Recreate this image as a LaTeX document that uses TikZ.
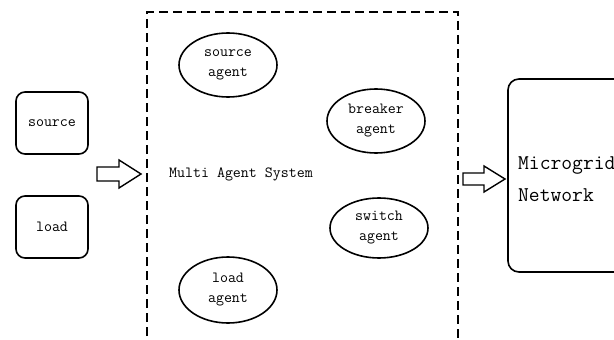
\documentclass[tikz,border=0pt]{standalone}
\usetikzlibrary{shapes.geometric}
\begin{document}
\begin{tikzpicture}[x=1pt,y=-1pt,
  line width=1.6pt,
  every node/.style={font=\ttfamily\fontsize{15.5}{20}\selectfont, align=center},
  block/.style={draw, rounded corners=9pt, minimum width=72pt, minimum height=62pt},
  agent/.style={draw, ellipse, minimum width=98pt, minimum height=64pt, inner sep=0pt},
  fatarrow/.style={draw, line width=1.4pt, line join=miter}
]
\useasboundingbox (0,0) rectangle (614,340);
\clip (0,0) rectangle (614,340);

% inputs
\node[block] (src) at (52,123) {source};
\node[block] (ld) at (52,227) {load};

% multi agent system frame
\draw[dash pattern=on 9pt off 5pt] (147,350) -- (147,12) -- (458,12) -- (458,350);
\node[anchor=west] (mas) at (165,174) {Multi Agent System};

\node[agent] (sa) at (228,65) {source\\agent};
\node[agent] (ba) at (376,121) {breaker\\agent};
\node[agent, minimum height=60pt] (wa) at (379,228) {switch\\agent};
\node[agent, minimum height=66pt] (la) at (228,290) {load\\agent};

% microgrid network
\draw[rounded corners=11pt] (508,79) rectangle (640,272);
\node[anchor=west, font=\ttfamily\fontsize{21}{32}\selectfont, align=left] (mg) at (514,179) {Microgrid\\Network};

% hollow arrows
\draw[fatarrow] (97,167) -- (119,167) -- (119,160) -- (141,174) -- (119,188) -- (119,181) -- (97,181) -- cycle;
\draw[fatarrow] (463,173) -- (484,173) -- (484,166) -- (505,179) -- (484,192) -- (484,185) -- (463,185) -- cycle;
\end{tikzpicture}
\end{document}
